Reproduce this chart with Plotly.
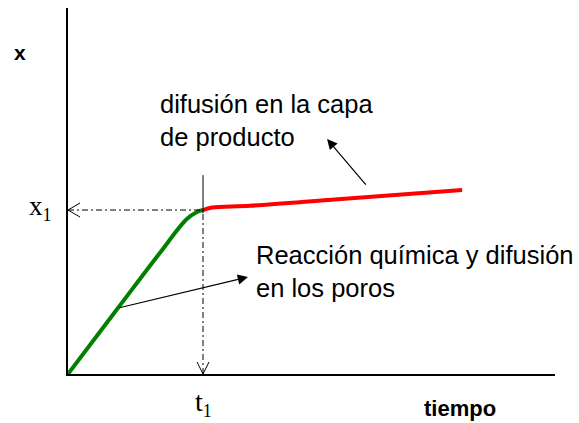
import plotly.graph_objects as go

# esquema conversión x frente a tiempo (unidades: t1 = 1, x1 = 1)
t_reaccion = [0.0, 0.37, 0.68, 0.88, 0.956, 1.0]
x_reaccion = [0.0, 0.402, 0.738, 0.945, 0.988, 1.0]
t_difusion = [1.0, 1.067, 1.348, 2.0, 2.919]
x_difusion = [1.0, 1.015, 1.026, 1.066, 1.122]

t1 = 1.0
x1 = 1.0
marca_t1 = [0.98, 1.213]   # trazo continuo sobre t1
t_max = 3.607
x_max = 2.232

# flechas de las etiquetas: (punta t, punta x, cola t, cola x)
flecha_difusion = (1.919, 1.433, 2.215, 1.146)
flecha_reaccion = (1.333, 0.591, 0.37, 0.402)

texto_difusion = "difusión en la capa<br>de producto"
texto_reaccion = "Reacción química y difusión<br>en los poros"

SANS = "Liberation Sans, Arial, sans-serif"
SERIF = "Liberation Serif, Times New Roman, serif"

fig = go.Figure()

fig.add_trace(go.Scatter(x=t_reaccion, y=x_reaccion, mode="lines",
                         line=dict(color="#008000", width=4, shape="spline"),
                         hoverinfo="skip"))
fig.add_trace(go.Scatter(x=t_difusion, y=x_difusion, mode="lines",
                         line=dict(color="#ff0000", width=4, shape="spline"),
                         hoverinfo="skip"))

# líneas guía punto-raya
fig.add_trace(go.Scatter(x=[0, t1], y=[x1, x1], mode="lines",
                         line=dict(color="black", width=1, dash="6px,3px,2px,3px"),
                         hoverinfo="skip"))
fig.add_trace(go.Scatter(x=[t1, t1], y=[0, x1], mode="lines",
                         line=dict(color="black", width=1, dash="6px,3px,2px,3px"),
                         hoverinfo="skip"))
fig.add_trace(go.Scatter(x=[t1, t1], y=marca_t1, mode="lines",
                         line=dict(color="black", width=1), hoverinfo="skip"))

# puntas abiertas de las guías
fig.add_shape(type="path", xref="x", yref="y", xsizemode="pixel", ysizemode="pixel",
              xanchor=0, yanchor=x1, path="M 12,7 L 0,0 L 12,-7",
              line=dict(color="black", width=1))
fig.add_shape(type="path", xref="x", yref="y", xsizemode="pixel", ysizemode="pixel",
              xanchor=t1, yanchor=0, path="M -6,12 L 0,0 L 6,12",
              line=dict(color="black", width=1))

for px, py, qx, qy in [flecha_difusion, flecha_reaccion]:
    fig.add_annotation(x=px, y=py, ax=qx, ay=qy, xref="x", yref="y",
                       axref="x", ayref="y", text="", showarrow=True,
                       arrowhead=2, arrowsize=1.7, arrowwidth=1.2,
                       arrowcolor="black", standoff=0)

fig.add_annotation(x=0.667, y=1.545, xref="x", yref="y", text=texto_difusion,
                   showarrow=False, xanchor="left", yanchor="middle", align="left",
                   font=dict(family=SANS, size=25.5, color="black"))
fig.add_annotation(x=1.378, y=0.627, xref="x", yref="y", text=texto_reaccion,
                   showarrow=False, xanchor="left", yanchor="middle", align="left",
                   font=dict(family=SANS, size=25.5, color="black"))

# rótulos de ejes (paper = área del gráfico)
fig.add_annotation(x=-0.0986, y=1.963, xref="paper", yref="y", text="<b>x</b>",
                   showarrow=False, xanchor="center", yanchor="middle",
                   font=dict(family=SANS, size=21, color="black"))
fig.add_annotation(x=2.904, y=-0.0956, xref="x", yref="paper",
                   text="<b>tiempo</b>", showarrow=False, xanchor="center", yanchor="middle",
                   font=dict(family=SANS, size=22, color="black"))
fig.add_annotation(x=0, y=x1, xref="paper", yref="y",
                   text="x<sub><span style='font-size:18px'>1</span></sub>",
                   showarrow=False, xanchor="right", yanchor="middle", xshift=-14, yshift=2,
                   font=dict(family=SERIF, size=27, color="black"))
fig.add_annotation(x=t1, y=0, xref="x", yref="paper",
                   text="t<sub><span style='font-size:18px'>1</span></sub>",
                   showarrow=False, xanchor="center", yanchor="top", yshift=-10,
                   font=dict(family=SERIF, size=28, color="black"))

fig.update_xaxes(range=[0, t_max], showline=True, linecolor="black", linewidth=1.5,
                 showgrid=False, zeroline=False, showticklabels=False, ticks="")
fig.update_yaxes(range=[0, x_max], showline=True, linecolor="black", linewidth=1.5,
                 showgrid=False, zeroline=False, showticklabels=False, ticks="")

fig.update_layout(width=579, height=423, showlegend=False,
                  margin=dict(l=68, r=24, t=8, b=49),
                  plot_bgcolor="white", paper_bgcolor="white")

fig.write_html("out.html", config={"displayModeBar": False},
               post_script="document.body.style.margin='0';")
